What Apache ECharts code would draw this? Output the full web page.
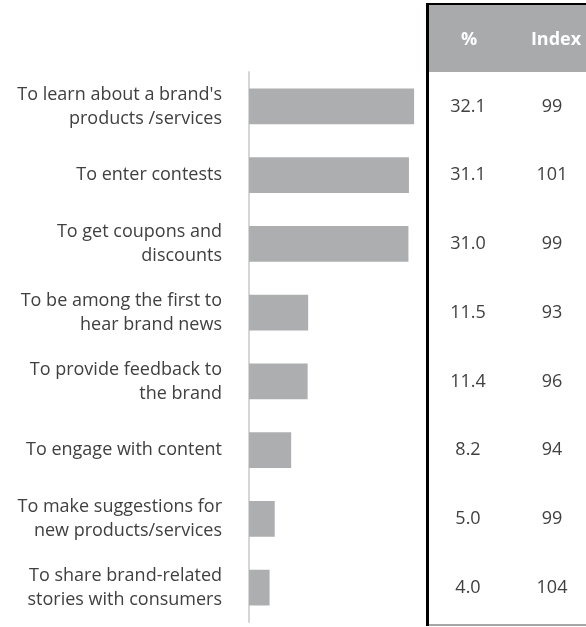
<!DOCTYPE html>
<html>
<head>
<meta charset="utf-8">
<script src="https://cdn.jsdelivr.net/npm/echarts@6/dist/echarts.min.js"></script>
<style>
  html, body { margin: 0; padding: 0; background: #fff; }
  #chart { width: 586px; height: 627px; }
</style>
</head>
<body>
<div id="chart"></div>
<script>
// Reasons for following brands on social media
const categories = [
  "To learn about a brand's\nproducts /services",
  "To enter contests",
  "To get coupons and\ndiscounts",
  "To be among the first to\nhear brand news",
  "To provide feedback to\nthe brand",
  "To engage with content",
  "To make suggestions for\nnew products/services",
  "To share brand-related\nstories with consumers"
];
const percentValues = [32.1, 31.1, 31.0, 11.5, 11.4, 8.2, 5.0, 4.0];
const indexValues = [99, 101, 99, 93, 96, 94, 99, 104];
const tableHeaders = ['%', 'Index'];

const textColor = '#404040';
const barColor = '#adaeb0';
const font = "'Open Sans', 'Noto Sans', sans-serif";

const chart = echarts.init(document.getElementById('chart'), null, { renderer: 'canvas' });

chart.setOption({
  animation: false,
  grid: { left: 249, top: 72, width: 180, height: 550 },
  xAxis: { type: 'value', min: 0, max: 35, show: false },
  yAxis: [
    {
      type: 'category',
      data: categories,
      inverse: true,
      axisLine: { show: true, lineStyle: { color: '#d6d6d6', width: 2 } },
      axisTick: { show: false },
      axisLabel: {
        margin: 27,
        color: textColor,
        fontFamily: font,
        fontSize: 18,
        lineHeight: 24,
        align: 'right'
      }
    },
    {
      type: 'category',
      data: percentValues.map(v => v.toFixed(1)),
      inverse: true,
      position: 'right',
      offset: 39,
      axisLine: { show: false },
      axisTick: { show: false },
      axisLabel: { margin: 0, align: 'center', color: textColor, fontFamily: font, fontSize: 18, padding: [4, 0, 0, 0] }
    },
    {
      type: 'category',
      data: indexValues.map(String),
      inverse: true,
      position: 'right',
      offset: 123,
      axisLine: { show: false },
      axisTick: { show: false },
      axisLabel: { margin: 0, align: 'center', color: textColor, fontFamily: font, fontSize: 18, padding: [4, 0, 0, 0] }
    }
  ],
  series: [{
    type: 'bar',
    yAxisIndex: 0,
    data: percentValues,
    barCategoryGap: '48%',
    itemStyle: { color: barColor },
    silent: true
  }],
  graphic: [
    // table header band
    { type: 'rect', shape: { x: 429, y: 5, width: 157, height: 67 }, style: { fill: '#a9aaac' }, silent: true },
    { type: 'text', x: 469, y: 40, style: { text: tableHeaders[0], fill: '#ffffff', font: "bold 18px " + font, align: 'center', verticalAlign: 'middle' } },
    { type: 'text', x: 556, y: 40, style: { text: tableHeaders[1], fill: '#ffffff', font: "bold 18px " + font, align: 'center', verticalAlign: 'middle' } },
    // table frame
    { type: 'rect', shape: { x: 426, y: 3, width: 160, height: 2 }, style: { fill: '#000' }, silent: true },
    { type: 'rect', shape: { x: 426, y: 3, width: 3, height: 623 }, style: { fill: '#000' }, silent: true },
    { type: 'rect', shape: { x: 429, y: 624, width: 157, height: 2 }, style: { fill: '#a6a6a6' }, silent: true }
  ]
});
</script>
</body>
</html>
